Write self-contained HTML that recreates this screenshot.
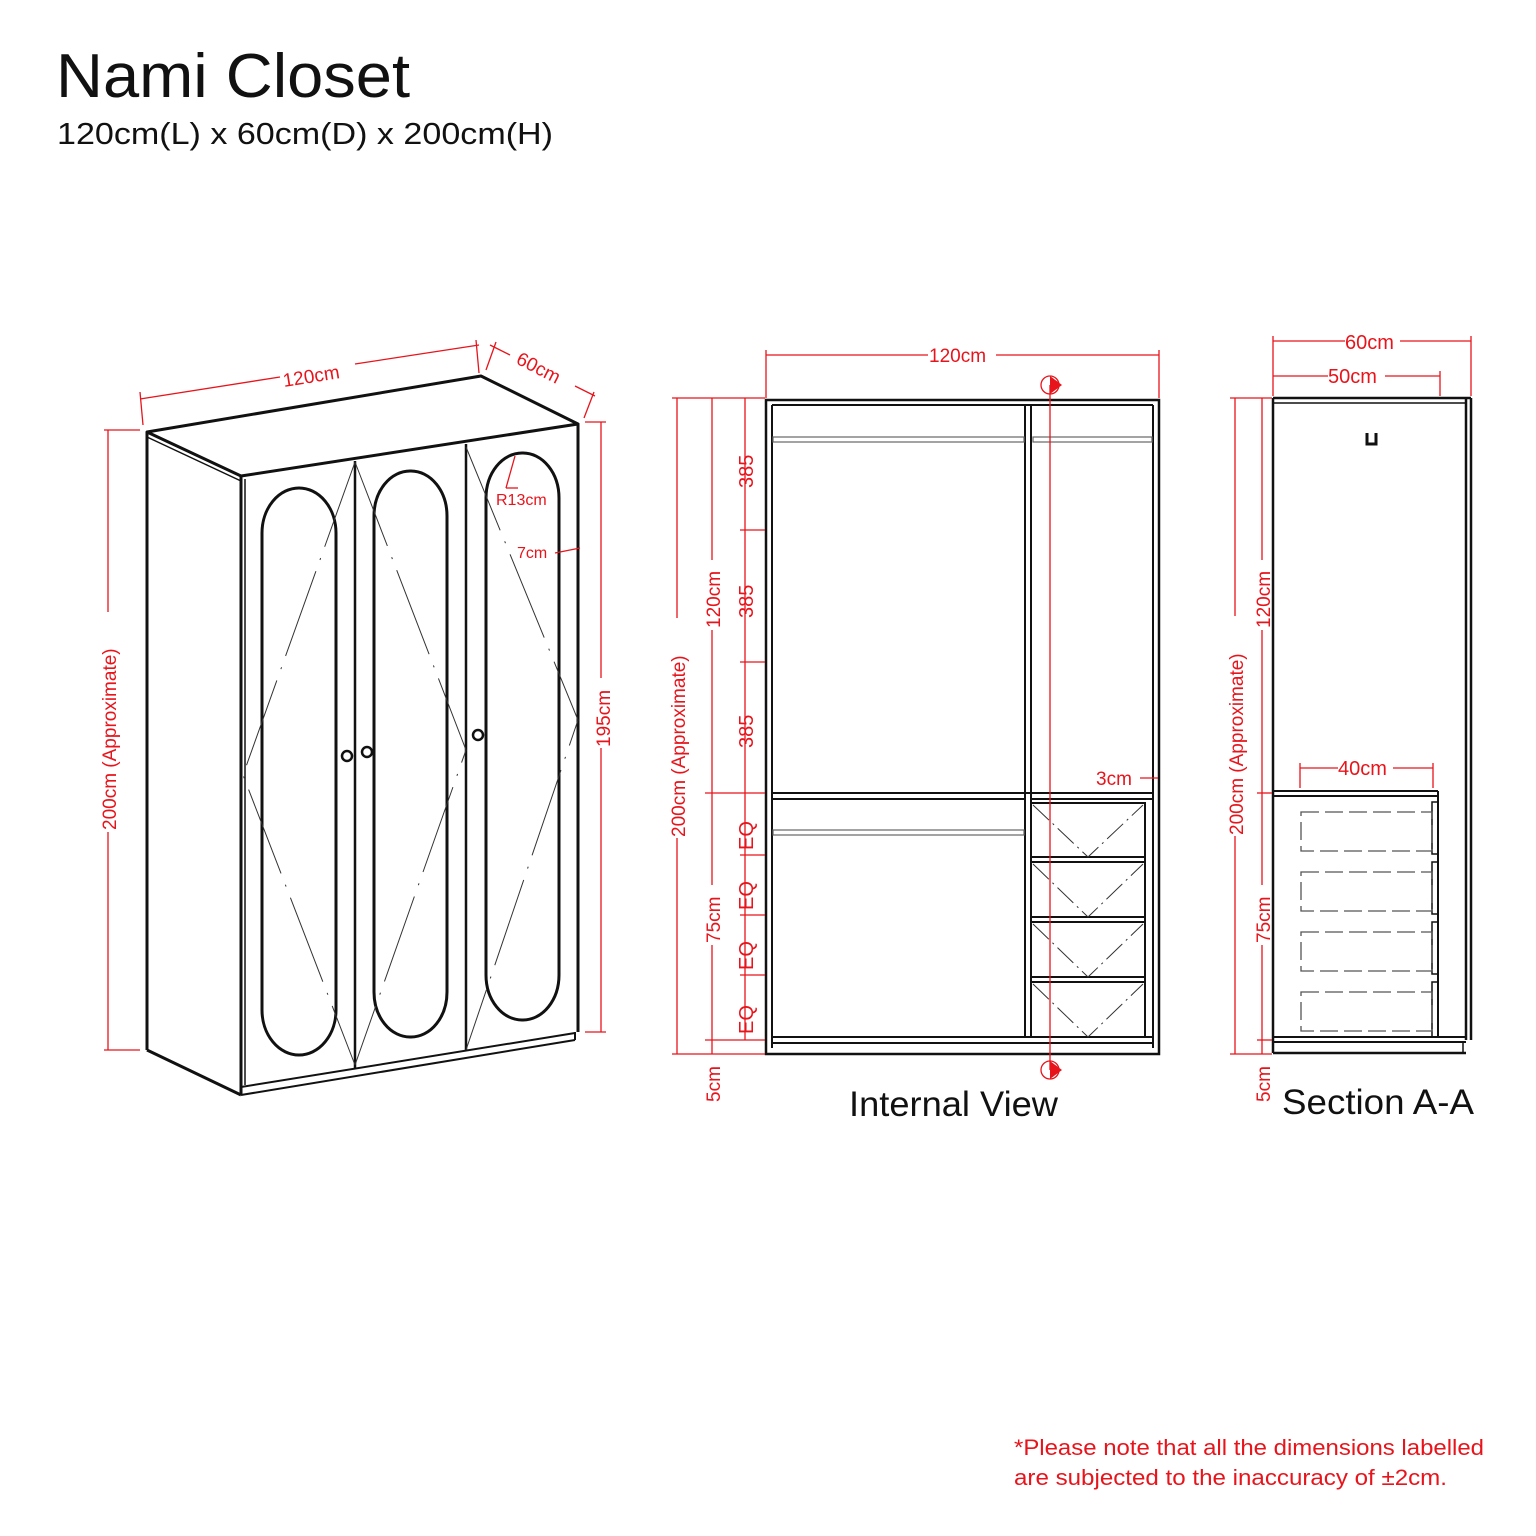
<!DOCTYPE html>
<html><head><meta charset="utf-8"><style>
html,body{margin:0;padding:0;background:#fff;}
svg{display:block}
.r{fill:#e8141b;font-family:"Liberation Sans",sans-serif;}
</style></head><body>
<svg width="1536" height="1536" viewBox="0 0 1536 1536" xmlns="http://www.w3.org/2000/svg">
<text x="56" y="97" font-family="Liberation Sans, sans-serif" font-size="62" fill="#111" textLength="354" lengthAdjust="spacingAndGlyphs">Nami Closet</text>
<text x="57" y="144" font-family="Liberation Sans, sans-serif" font-size="31" fill="#111" textLength="496" lengthAdjust="spacingAndGlyphs">120cm(L) x 60cm(D) x 200cm(H)</text>

<!-- ISO closet -->
<g fill="none" stroke="#111" stroke-width="3" stroke-linejoin="round">
<polygon points="147,432 481,376 578,424 241,476" fill="#fff"/>
<line x1="147" y1="437" x2="241" y2="481" stroke-width="1.5"/>
<line x1="147" y1="432" x2="147" y2="1050"/>
<line x1="147" y1="1050" x2="241" y2="1095"/>
<line x1="241" y1="476" x2="241" y2="1095"/>
<line x1="245" y1="479" x2="245" y2="1085" stroke-width="1.5"/>
<line x1="578" y1="424" x2="578" y2="1032"/>
<line x1="241" y1="1087" x2="575" y2="1033" stroke-width="2"/>
<line x1="241" y1="1095" x2="575" y2="1040" stroke-width="2"/>
<line x1="575" y1="1032" x2="575" y2="1040" stroke-width="2"/>
<line x1="355" y1="461" x2="355" y2="1068" stroke-width="2.5"/>
<line x1="466" y1="444" x2="466" y2="1050" stroke-width="2.5"/>
<rect x="262" y="488" width="74" height="567" rx="37" ry="45" stroke-width="3"/>
<rect x="374" y="471" width="73" height="566" rx="36" ry="45" stroke-width="3"/>
<rect x="486" y="453" width="73" height="567" rx="36" ry="45" stroke-width="3"/>
<circle cx="347" cy="756" r="5" stroke-width="2.5"/>
<circle cx="367" cy="752" r="5" stroke-width="2.5"/>
<circle cx="478" cy="735" r="5" stroke-width="2.5"/>
</g>
<g fill="none" stroke="#333" stroke-width="1" stroke-dasharray="90,12,2,12">
<polyline points="355,462 243,775 355,1065"/>
<polyline points="355,462 466,750 355,1065"/>
<polyline points="466,447 578,720 466,1050"/>
</g>
<!-- ISO dims -->
<g stroke="#e8141b" stroke-width="1.3" fill="none">
<line x1="140" y1="399" x2="280" y2="377"/><line x1="355" y1="364" x2="479" y2="345"/>
<line x1="140" y1="392" x2="143" y2="425"/><line x1="476" y1="340" x2="479" y2="373"/>
<line x1="490" y1="345" x2="510" y2="355"/><line x1="575" y1="386" x2="595" y2="396"/>
<line x1="486" y1="370" x2="496" y2="342"/><line x1="594" y1="392" x2="584" y2="418"/>
<line x1="108" y1="430" x2="108" y2="612"/><line x1="108" y1="832" x2="108" y2="1050"/>
<line x1="104" y1="430" x2="140" y2="430"/><line x1="104" y1="1050" x2="140" y2="1050"/>
<line x1="601" y1="422" x2="601" y2="678"/><line x1="601" y1="748" x2="601" y2="1032"/>
<line x1="585" y1="422" x2="606" y2="422"/><line x1="585" y1="1032" x2="606" y2="1032"/>
<line x1="515" y1="456" x2="506" y2="488"/><line x1="506" y1="488" x2="518" y2="488"/>
<line x1="555" y1="553" x2="580" y2="548"/>
</g>
<text class="r" font-size="19" transform="translate(284,387) rotate(-9)">120cm</text>
<text class="r" font-size="19" transform="translate(515,363) rotate(27)">60cm</text>
<text class="r" font-size="19" transform="translate(116,830) rotate(-90)">200cm (Approximate)</text>
<text class="r" font-size="19" transform="translate(610,747) rotate(-90)">195cm</text>
<text class="r" font-size="16" x="496" y="505">R13cm</text>
<text class="r" font-size="16" x="517" y="558">7cm</text>

<!-- Internal view -->
<g fill="none" stroke="#111" stroke-width="2.5">
<rect x="766" y="400" width="393" height="654"/>
<line x1="772" y1="405" x2="772" y2="1048" stroke-width="2"/>
<line x1="1153" y1="405" x2="1153" y2="1048" stroke-width="2"/>
<line x1="772" y1="405" x2="1153" y2="405" stroke-width="2"/>
<line x1="1025" y1="405" x2="1025" y2="1037" stroke-width="2"/>
<line x1="1031" y1="405" x2="1031" y2="1037" stroke-width="2"/>
<line x1="772" y1="793" x2="1153" y2="793" stroke-width="2"/>
<line x1="772" y1="799" x2="1025" y2="799" stroke-width="2"/>
<line x1="1031" y1="799" x2="1153" y2="799" stroke-width="2"/>
<line x1="772" y1="1037" x2="1153" y2="1037" stroke-width="2"/>
<line x1="772" y1="1043" x2="1153" y2="1043" stroke-width="2"/>
<rect x="1031" y="803" width="114" height="234" stroke-width="2"/>
<g stroke-width="2"><line x1="1031" y1="857" x2="1145" y2="857"/><line x1="1031" y1="862" x2="1145" y2="862"/>
<line x1="1031" y1="917" x2="1145" y2="917"/><line x1="1031" y1="922" x2="1145" y2="922"/>
<line x1="1031" y1="977" x2="1145" y2="977"/><line x1="1031" y1="982" x2="1145" y2="982"/></g>
</g>
<g fill="none" stroke="#666" stroke-width="1.2">
<rect x="773" y="437" width="251" height="5"/><rect x="1033" y="437" width="119" height="5"/>
<rect x="773" y="830" width="251" height="5"/>
</g>
<g fill="none" stroke="#333" stroke-width="1" stroke-dasharray="22,5,2,5">
<polyline points="1033,805 1088,857 1143,805"/><polyline points="1033,864 1088,917 1143,864"/>
<polyline points="1033,924 1088,977 1143,924"/><polyline points="1033,984 1088,1037 1143,984"/>
</g>
<g stroke="#e8141b" stroke-width="1.3" fill="none">
<line x1="766" y1="355" x2="928" y2="355"/><line x1="996" y1="355" x2="1159" y2="355"/>
<line x1="766" y1="350" x2="766" y2="398"/><line x1="1159" y1="350" x2="1159" y2="398"/>
<line x1="677" y1="398" x2="677" y2="618"/><line x1="677" y1="838" x2="677" y2="1054"/>
<line x1="672" y1="398" x2="765" y2="398"/><line x1="672" y1="1054" x2="765" y2="1054"/>
<line x1="712" y1="398" x2="712" y2="560"/><line x1="712" y1="630" x2="712" y2="885"/><line x1="712" y1="945" x2="712" y2="1054"/>
<line x1="705" y1="793" x2="765" y2="793"/><line x1="705" y1="1040" x2="765" y2="1040"/>
<line x1="745" y1="398" x2="745" y2="1040"/>
<line x1="740" y1="530" x2="765" y2="530"/><line x1="740" y1="662" x2="765" y2="662"/>
<line x1="740" y1="855" x2="765" y2="855"/><line x1="740" y1="915" x2="765" y2="915"/><line x1="740" y1="975" x2="765" y2="975"/>
<line x1="1050" y1="385" x2="1050" y2="1070"/>
<line x1="1140" y1="778" x2="1158" y2="778"/>
<circle cx="1050" cy="385" r="9"/><circle cx="1050" cy="1070" r="9"/>
</g>
<polygon points="1050,376 1062,385 1050,394" fill="#e8141b"/>
<polygon points="1050,1061 1062,1070 1050,1079" fill="#e8141b"/>
<text class="r" font-size="19" x="929" y="362">120cm</text>
<text class="r" font-size="19" transform="translate(685,837) rotate(-90)">200cm (Approximate)</text>
<text class="r" font-size="19" transform="translate(720,628) rotate(-90)">120cm</text>
<text class="r" font-size="19" transform="translate(720,943) rotate(-90)">75cm</text>
<text class="r" font-size="19" transform="translate(720,1102) rotate(-90)">5cm</text>
<g class="r" font-size="20">
<text transform="translate(753,488) rotate(-90)">385</text>
<text transform="translate(753,618) rotate(-90)">385</text>
<text transform="translate(753,748) rotate(-90)">385</text>
<text transform="translate(753,850) rotate(-90)">EQ</text>
<text transform="translate(753,910) rotate(-90)">EQ</text>
<text transform="translate(753,970) rotate(-90)">EQ</text>
<text transform="translate(753,1034) rotate(-90)">EQ</text>
</g>
<text class="r" font-size="19" x="1096" y="785">3cm</text>
<text x="849" y="1116" font-family="Liberation Sans, sans-serif" font-size="35" fill="#111" textLength="209" lengthAdjust="spacingAndGlyphs">Internal View</text>

<!-- Section A-A -->
<g fill="none" stroke="#111" stroke-width="2.5">
<line x1="1273" y1="398" x2="1273" y2="1053"/>
<line x1="1273" y1="398" x2="1471" y2="398"/>
<line x1="1273" y1="403" x2="1466" y2="403" stroke-width="1.5"/>
<line x1="1466" y1="398" x2="1466" y2="1040"/>
<line x1="1471" y1="398" x2="1471" y2="1040"/>
<line x1="1273" y1="791" x2="1438" y2="791" stroke-width="2"/>
<line x1="1273" y1="796" x2="1438" y2="796" stroke-width="2"/>
<line x1="1438" y1="791" x2="1438" y2="1037" stroke-width="2"/>
<line x1="1273" y1="1037" x2="1466" y2="1037" stroke-width="2"/>
<line x1="1273" y1="1042" x2="1466" y2="1042" stroke-width="2"/>
<line x1="1273" y1="1053" x2="1466" y2="1053"/>
<line x1="1463" y1="1042" x2="1463" y2="1053" stroke-width="1.5"/>
<rect x="1432" y="802" width="6" height="52" stroke-width="1.5"/>
<rect x="1432" y="862" width="6" height="52" stroke-width="1.5"/>
<rect x="1432" y="922" width="6" height="52" stroke-width="1.5"/>
<rect x="1432" y="982" width="6" height="55" stroke-width="1.5"/>
<polyline points="1367,433 1367,444 1376,444 1376,433" stroke-width="3"/>
</g>
<g fill="none" stroke="#555" stroke-width="1.3" stroke-dasharray="18,6">
<rect x="1301" y="812" width="131" height="39"/>
<rect x="1301" y="872" width="131" height="39"/>
<rect x="1301" y="932" width="131" height="39"/>
<rect x="1301" y="992" width="131" height="39"/>
</g>
<g stroke="#e8141b" stroke-width="1.3" fill="none">
<line x1="1273" y1="341" x2="1345" y2="341"/><line x1="1400" y1="341" x2="1471" y2="341"/>
<line x1="1273" y1="336" x2="1273" y2="396"/><line x1="1471" y1="336" x2="1471" y2="396"/>
<line x1="1273" y1="376" x2="1328" y2="376"/><line x1="1385" y1="376" x2="1440" y2="376"/>
<line x1="1440" y1="371" x2="1440" y2="396"/>
<line x1="1300" y1="768" x2="1338" y2="768"/><line x1="1393" y1="768" x2="1433" y2="768"/>
<line x1="1300" y1="763" x2="1300" y2="788"/><line x1="1433" y1="763" x2="1433" y2="788"/>
<line x1="1235" y1="398" x2="1235" y2="616"/><line x1="1235" y1="836" x2="1235" y2="1054"/>
<line x1="1230" y1="398" x2="1272" y2="398"/><line x1="1230" y1="1054" x2="1272" y2="1054"/>
<line x1="1262" y1="398" x2="1262" y2="560"/><line x1="1262" y1="630" x2="1262" y2="885"/><line x1="1262" y1="945" x2="1262" y2="1054"/>
<line x1="1257" y1="793" x2="1272" y2="793"/><line x1="1257" y1="1040" x2="1272" y2="1040"/>
</g>
<text class="r" font-size="20" x="1345" y="349">60cm</text>
<text class="r" font-size="20" x="1328" y="383">50cm</text>
<text class="r" font-size="20" x="1338" y="775">40cm</text>
<text class="r" font-size="19" transform="translate(1243,835) rotate(-90)">200cm (Approximate)</text>
<text class="r" font-size="19" transform="translate(1270,628) rotate(-90)">120cm</text>
<text class="r" font-size="19" transform="translate(1270,943) rotate(-90)">75cm</text>
<text class="r" font-size="19" transform="translate(1270,1102) rotate(-90)">5cm</text>
<text x="1282" y="1114" font-family="Liberation Sans, sans-serif" font-size="35" fill="#111" textLength="192" lengthAdjust="spacingAndGlyphs">Section A-A</text>

<text class="r" font-size="22" x="1014" y="1455" textLength="470" lengthAdjust="spacingAndGlyphs">*Please note that all the dimensions labelled</text>
<text class="r" font-size="22" x="1014" y="1485" textLength="433" lengthAdjust="spacingAndGlyphs">are subjected to the inaccuracy of ±2cm.</text>
</svg>
</body></html>
